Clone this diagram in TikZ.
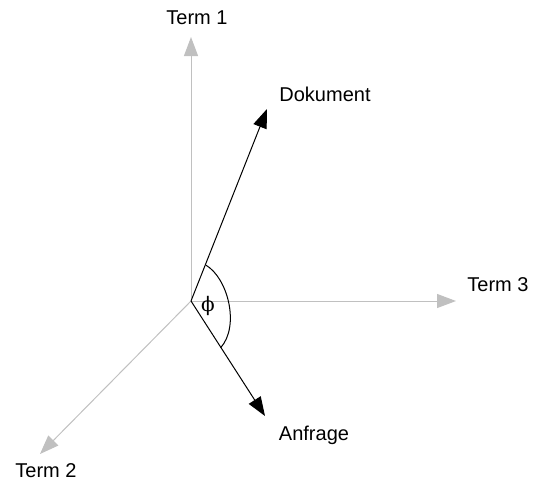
\documentclass[tikz,border=0pt]{standalone}
\usepackage{fontspec}
\setmainfont{Liberation Sans}
\newfontfamily\phifont{DejaVu Serif}
\usetikzlibrary{arrows.meta}
\definecolor{axisgray}{RGB}{192,192,192}
\tikzset{
  lbl/.style={font=\fontsize{20}{24}\selectfont, inner sep=0pt},
  axis/.style={draw=axisgray, line width=1pt, -{Triangle[length=19pt,width=14pt,fill=axisgray]}},
  vec/.style={draw=black, line width=1pt, -{Triangle[length=19pt,width=14pt,fill=black]}},
}
\begin{document}
\begin{tikzpicture}[x=1pt,y=-1pt]
\useasboundingbox (0,0) rectangle (533,482);
\coordinate (O) at (191,301);
\coordinate (t1) at (191,37);
\coordinate (t2) at (40,454);
\coordinate (t3) at (456,301);
\coordinate (dk) at (267,109);
\coordinate (af) at (265,416);
\node[lbl] (l1) at (197,18) {Term 1};
\node[lbl] (l2) at (46,471) {Term 2};
\node[lbl] (l3) at (498,285) {Term 3};
\node[lbl] (ld) at (325,94) {Dokument};
\node[lbl] (la) at (314,435) {Anfrage};
\draw[axis] (O) -- (t1);
\draw[axis] (O) -- (t2);
\draw[axis] (O) -- (t3);
\draw[vec] (O) -- (dk);
\draw[vec] (O) -- (af);
\coordinate (as) at (205.7,265);
\coordinate (ae) at (220.7,347.7);
\draw[line width=1pt] (as) .. controls (228,278) and (240,326) .. (ae);
\node[inner sep=0pt, font=\phifont\fontsize{20}{24}\selectfont] (phi) at (208,306) {ϕ};
\end{tikzpicture}
\end{document}
